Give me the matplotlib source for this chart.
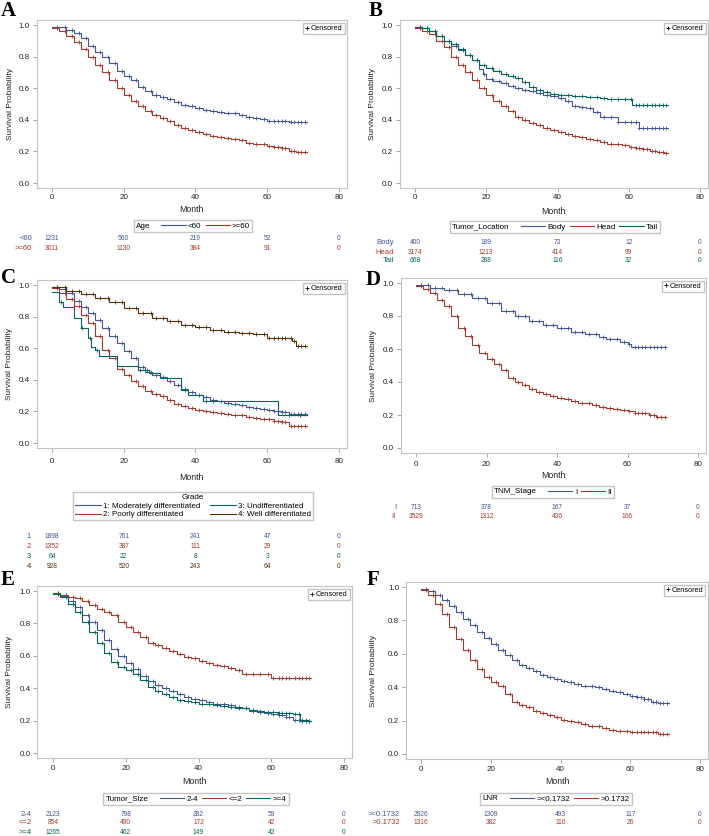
import matplotlib
matplotlib.use("Agg")
import numpy as np
import matplotlib.pyplot as plt
from matplotlib.lines import Line2D
from matplotlib.offsetbox import HPacker
from matplotlib.transforms import blended_transform_factory

plt.rcParams['font.family'] = ['Liberation Sans Narrow', 'Liberation Sans', 'DejaVu Sans']

BLUE, RED, GREEN, BROWN = '#445694', '#A23A2E', '#01665E', '#543005'

# ---- data ----
MONTHS = [0, 2, 4, 6, 8, 10, 12, 14, 16, 18, 20, 22, 24, 26, 28, 30, 32, 34,
          36, 38, 40, 42, 44, 46, 48, 50, 52, 54, 56, 58, 60, 62, 64, 66, 68, 70]
END_MONTH = 71
RISK_MONTHS = [0, 20, 40, 60, 80]
CENSOR = [1.5, 3.5, 5.5, 7.5, 9.5, 11.5, 13.5, 15.5, 17.5, 19.5, 21.5, 23.5, 25.5,
          27.5, 29, 31, 33, 35, 37, 39, 41, 43, 45, 47, 49, 51, 53, 55, 57, 59,
          60.5, 62, 63, 64, 65, 66.5, 67.5, 68.5, 69.5, 70.5]
CENSOR_UNDIFF = [2.5, 8.5, 10.5, 12.5, 24.5, 26.5, 37, 43, 45, 66, 69]

# A: Age
age_lt60 = [0.99, 0.985, 0.97, 0.95, 0.92, 0.87, 0.83, 0.80, 0.76, 0.71, 0.675, 0.65,
            0.61, 0.58, 0.56, 0.545, 0.53, 0.515, 0.495, 0.485, 0.475, 0.465, 0.455, 0.45,
            0.445, 0.44, 0.43, 0.415, 0.41, 0.405, 0.395, 0.395, 0.395, 0.385, 0.385, 0.385]
age_ge60 = [0.98, 0.96, 0.93, 0.89, 0.85, 0.80, 0.745, 0.70, 0.65, 0.60, 0.555, 0.52,
            0.49, 0.455, 0.43, 0.41, 0.39, 0.37, 0.35, 0.335, 0.32, 0.31, 0.30, 0.29,
            0.285, 0.28, 0.27, 0.255, 0.25, 0.245, 0.235, 0.225, 0.22, 0.205, 0.195, 0.195]
age_risk = [[1231, 560, 219, 52, 0], [3011, 1130, 384, 91, 0]]

# B: Tumor location
body_t = [0, 2, 4, 6, 8, 10, 12, 14, 16, 18, 19, 20, 22, 24, 26, 28, 30, 32, 34, 36,
          38, 40, 42, 44, 46, 48, 50, 52, 54, 56, 57, 60, 63]
body_s = [0.99, 0.98, 0.96, 0.93, 0.90, 0.87, 0.84, 0.81, 0.78, 0.72, 0.69, 0.66, 0.645,
          0.63, 0.615, 0.60, 0.59, 0.58, 0.57, 0.56, 0.55, 0.54, 0.52, 0.49, 0.48, 0.475,
          0.45, 0.42, 0.415, 0.415, 0.385, 0.385, 0.35]
head_s = [0.98, 0.96, 0.94, 0.90, 0.86, 0.80, 0.75, 0.70, 0.65, 0.60, 0.555, 0.52,
          0.49, 0.455, 0.42, 0.40, 0.38, 0.365, 0.35, 0.335, 0.32, 0.31, 0.30, 0.29,
          0.28, 0.275, 0.26, 0.25, 0.245, 0.24, 0.23, 0.22, 0.215, 0.205, 0.195, 0.19]
tail_t = [0, 2, 4, 6, 8, 10, 12, 14, 16, 18, 20, 22, 24, 26, 28, 30, 32, 34, 36, 38,
          40, 44, 48, 52, 54, 58, 61]
tail_s = [0.99, 0.98, 0.96, 0.93, 0.90, 0.88, 0.85, 0.81, 0.78, 0.75, 0.73, 0.71, 0.69,
          0.68, 0.665, 0.64, 0.61, 0.59, 0.575, 0.565, 0.555, 0.55, 0.545, 0.54, 0.53,
          0.53, 0.495]
loc_risk = [[400, 189, 73, 12, 0], [3174, 1213, 414, 99, 0], [668, 288, 116, 32, 0]]

# C: Grade
moder_s = [0.99, 0.975, 0.95, 0.90, 0.86, 0.82, 0.78, 0.73, 0.68, 0.63, 0.585, 0.54,
           0.48, 0.45, 0.43, 0.415, 0.39, 0.365, 0.34, 0.32, 0.305, 0.29, 0.275, 0.265,
           0.255, 0.25, 0.24, 0.23, 0.22, 0.215, 0.21, 0.20, 0.195, 0.185, 0.185, 0.185]
poor_s = [0.98, 0.95, 0.91, 0.87, 0.81, 0.76, 0.68, 0.59, 0.54, 0.47, 0.43, 0.39,
          0.36, 0.33, 0.31, 0.295, 0.27, 0.25, 0.235, 0.22, 0.21, 0.20, 0.195, 0.19,
          0.185, 0.18, 0.175, 0.165, 0.16, 0.155, 0.15, 0.14, 0.135, 0.11, 0.11, 0.11]
undiff_t = [0, 2, 3, 6, 8, 10, 11, 12, 13, 18, 24, 27, 30, 36, 38, 42, 63]
undiff_s = [0.955, 0.89, 0.86, 0.79, 0.725, 0.665, 0.61, 0.59, 0.55, 0.49, 0.46, 0.44,
            0.41, 0.335, 0.305, 0.265, 0.175]
well_t = [0, 4, 8, 12, 16, 20, 24, 28, 32, 36, 40, 44, 48, 52, 56, 60, 67, 68]
well_s = [0.99, 0.965, 0.94, 0.915, 0.89, 0.855, 0.825, 0.79, 0.77, 0.75, 0.735, 0.715,
          0.705, 0.695, 0.69, 0.665, 0.645, 0.615]
grade_risk = [[1898, 761, 241, 47, 0], [1352, 387, 111, 29, 0], [64, 22, 8, 3, 0],
              [928, 520, 243, 64, 0]]

# D: TNM stage
stage1_t = [0, 4, 8, 12, 16, 20, 24, 28, 32, 36, 40, 44, 48, 52, 54, 58, 60, 61]
stage1_s = [0.99, 0.97, 0.955, 0.935, 0.91, 0.88, 0.83, 0.80, 0.77, 0.745, 0.725, 0.705,
            0.69, 0.675, 0.66, 0.645, 0.63, 0.61]
stage2_s = [0.98, 0.965, 0.94, 0.90, 0.86, 0.80, 0.73, 0.68, 0.625, 0.575, 0.54, 0.51,
            0.47, 0.425, 0.40, 0.38, 0.36, 0.34, 0.325, 0.315, 0.305, 0.295, 0.285, 0.275,
            0.27, 0.26, 0.25, 0.24, 0.235, 0.23, 0.225, 0.215, 0.21, 0.20, 0.19, 0.185]
stage_risk = [[713, 378, 167, 37, 0], [3529, 1312, 436, 106, 0]]

# E: Tumor size
size24_s = [0.985, 0.97, 0.94, 0.90, 0.85, 0.81, 0.76, 0.70, 0.645, 0.60, 0.555, 0.52,
            0.475, 0.445, 0.42, 0.40, 0.38, 0.365, 0.345, 0.335, 0.325, 0.315, 0.305, 0.30,
            0.295, 0.285, 0.275, 0.26, 0.255, 0.245, 0.24, 0.235, 0.22, 0.205, 0.20, 0.20]
size_le2_s = [0.985, 0.975, 0.965, 0.955, 0.94, 0.915, 0.89, 0.87, 0.85, 0.81, 0.78, 0.745,
              0.715, 0.68, 0.665, 0.65, 0.63, 0.61, 0.595, 0.585, 0.57, 0.555, 0.545, 0.54,
              0.525, 0.51, 0.49, 0.49, 0.485, 0.485, 0.465, 0.46, 0.46, 0.46, 0.46, 0.46]
size_ge4_s = [0.98, 0.96, 0.92, 0.87, 0.81, 0.75, 0.68, 0.62, 0.56, 0.53, 0.51, 0.49,
              0.45, 0.41, 0.385, 0.365, 0.345, 0.33, 0.32, 0.315, 0.305, 0.30, 0.295, 0.29,
              0.285, 0.28, 0.275, 0.265, 0.26, 0.255, 0.255, 0.25, 0.245, 0.24, 0.205, 0.20]
size_risk = [[2123, 798, 282, 59, 0], [854, 490, 172, 42, 0], [1265, 462, 149, 42, 0]]

# F: LNR
lnr_low_s = [0.99, 0.975, 0.955, 0.925, 0.885, 0.85, 0.81, 0.77, 0.73, 0.695, 0.66, 0.625,
             0.59, 0.56, 0.535, 0.515, 0.495, 0.475, 0.46, 0.45, 0.44, 0.43, 0.42, 0.41,
             0.405, 0.40, 0.39, 0.375, 0.37, 0.36, 0.35, 0.34, 0.33, 0.31, 0.305, 0.305]
lnr_high_s = [0.98, 0.95, 0.90, 0.84, 0.76, 0.69, 0.62, 0.56, 0.51, 0.46, 0.43, 0.41,
              0.36, 0.31, 0.295, 0.28, 0.26, 0.245, 0.235, 0.22, 0.205, 0.195, 0.19, 0.18,
              0.17, 0.165, 0.155, 0.145, 0.14, 0.14, 0.13, 0.13, 0.13, 0.13, 0.12, 0.12]
lnr_risk = [[2926, 1309, 493, 117, 0], [1316, 382, 110, 26, 0]]

# ---- layout (pixels in the 709x836 picture) ----
W, H = 709, 836
XLIM = (-4.3, 82.3)
YLIM = (-0.032, 1.03)

panels = [
    dict(letter='A', letter_xy=(1, 1), px=(52, 339, 25, 183), var='Age',
         groups=['<60', '>=60'], colors=[BLUE, RED],
         curves=[(MONTHS, age_lt60), (MONTHS, age_ge60)], censor=[CENSOR, CENSOR],
         risk=age_risk, leg_xy=(193, 226), risk_y=[239, 248], lab_x=32,
         tick_pad=1.5, month_y=209, ylab_x=11),
    dict(letter='B', letter_xy=(369, 1), px=(415, 700, 25, 183), var='Tumor_Location',
         groups=['Body', 'Head', 'Tail'], colors=[BLUE, RED, GREEN],
         curves=[(body_t, body_s), (MONTHS, head_s), (tail_t, tail_s)],
         censor=[CENSOR, CENSOR, CENSOR],
         risk=loc_risk, leg_xy=(555, 227), risk_y=[243, 252, 260], lab_x=394,
         tick_pad=1.5, month_y=211, ylab_x=373),
    dict(letter='C', letter_xy=(1, 268), px=(52, 339, 285, 443), var='Grade',
         groups=['1: Moderately differentiated', '2: Poorly differentiated',
                 '3: Undifferentiated', '4: Well differentiated'],
         colors=[BLUE, RED, GREEN, BROWN],
         curves=[(MONTHS, moder_s), (MONTHS, poor_s), (undiff_t, undiff_s), (well_t, well_s)],
         censor=[CENSOR, CENSOR, CENSOR_UNDIFF, CENSOR],
         risk=grade_risk, leg_xy=(193, 506), risk_y=[537, 547, 557, 567], lab_x=31,
         labels=['1', '2', '3', '4'], tick_pad=4.5, month_y=477, ylab_x=10),
    dict(letter='D', letter_xy=(366, 270), px=(416, 698, 283, 448), var='TNM_Stage',
         groups=['I', 'II'], colors=[BLUE, RED],
         curves=[(stage1_t, stage1_s), (MONTHS, stage2_s)], censor=[CENSOR, CENSOR],
         risk=stage_risk, leg_xy=(553, 492), risk_y=[508, 517], lab_x=396,
         tick_pad=2.5, month_y=475, ylab_x=374),
    dict(letter='E', letter_xy=(1, 570), px=(53, 344, 591, 753), var='Tumor_Size',
         groups=['2-4', '<=2', '>=4'], colors=[BLUE, RED, GREEN],
         curves=[(MONTHS, size24_s), (MONTHS, size_le2_s), (MONTHS, size_ge4_s)],
         censor=[CENSOR, CENSOR, CENSOR],
         risk=size_risk, leg_xy=(196, 799), risk_y=[814, 823, 832], lab_x=32,
         tick_pad=2, month_y=781, ylab_x=10),
    dict(letter='F', letter_xy=(367, 570), px=(421, 700, 587, 754), var='LNR',
         groups=['=<0.1732', '>0.1732'], colors=[BLUE, RED],
         curves=[(MONTHS, lnr_low_s), (MONTHS, lnr_high_s)], censor=[CENSOR, CENSOR],
         risk=lnr_risk, leg_xy=(556, 799), risk_y=[814, 823], lab_x=400,
         tick_pad=2, month_y=782, ylab_x=374),
]


def axes_rect(x0, x80, y1, y0):
    sx = (x80 - x0) / 80.0
    sy = (y0 - y1)
    left = x0 + XLIM[0] * sx
    right = x0 + XLIM[1] * sx
    top = y1 - (YLIM[1] - 1) * sy
    bottom = y0 - YLIM[0] * sy
    return [left / W, 1 - bottom / H, (right - left) / W, (bottom - top) / H]


def surv_at(times, surv, t):
    idx = np.searchsorted(times, t, side='right') - 1
    return np.asarray(surv)[idx]


fig = plt.figure(figsize=(W / 100, H / 100), dpi=100)
fig.patch.set_facecolor('white')

for p in panels:
    ax = fig.add_axes(axes_rect(*p['px']))
    for (t, s), col, cens in zip(p['curves'], p['colors'], p['censor']):
        tt = list(t) + [END_MONTH]
        ss = list(s) + [s[-1]]
        ax.step(tt, ss, where='post', color=col, lw=0.8)
        ct = np.array(cens)
        ax.plot(ct, surv_at(tt, ss, ct), linestyle='none', marker='+',
                color=col, markersize=3.4, mew=0.6)

    ax.set_xlim(*XLIM)
    ax.set_ylim(*YLIM)
    ax.set_xticks([0, 20, 40, 60, 80])
    ax.set_yticks([0, 0.2, 0.4, 0.6, 0.8, 1.0])
    ax.set_yticklabels(['0.0', '0.2', '0.4', '0.6', '0.8', '1.0'])
    ax.tick_params(labelsize=5.8, length=3, width=0.6, color='#999999',
                   labelcolor='#222222', pad=2)
    ax.tick_params(axis='x', pad=p['tick_pad'])
    for sp in ax.spines.values():
        sp.set_color('#c4c4c4')
        sp.set_linewidth(0.8)

    ax.set_xlabel('Month', fontsize=6.3, color='#222222', va='center')
    ax.xaxis.set_label_coords(0.5, 1 - p['month_y'] / H,
                              transform=blended_transform_factory(ax.transAxes, fig.transFigure))
    ax.set_ylabel('Survival Probability', fontsize=6, color='#222222', va='center')
    ax.yaxis.set_label_coords(p['ylab_x'] / W, 0.5,
                              transform=blended_transform_factory(fig.transFigure, ax.transAxes))

    ax.legend([Line2D([], [], marker='+', color='black', linestyle='none',
                      markersize=3.5, mew=0.6)], ['Censored'],
              loc='upper right', fontsize=5.3, frameon=True, fancybox=False,
              edgecolor='#c4c4c4', framealpha=1, handlelength=0.5,
              handletextpad=0.3, borderpad=0.3, borderaxespad=0.35)

    # group legend below the plot
    handles = [Line2D([], [], color=c, lw=0.8) for c in p['colors']]
    cx, cy = p['leg_xy']
    wide = len(p['groups']) == 4
    leg = fig.legend(handles, p['groups'], loc='center',
                     bbox_to_anchor=(cx / W, 1 - cy / H),
                     ncol=2 if wide else len(handles), title=p['var'],
                     fontsize=5.8, title_fontsize=5.8, frameon=True, fancybox=False,
                     edgecolor='#c4c4c4', framealpha=1,
                     handlelength=3.0 if not wide else 3.2,
                     handletextpad=0.3, columnspacing=0.5 if not wide else 1.2,
                     borderpad=0.25, labelspacing=0.15)
    if not wide:
        # title sits to the left of the entries, as in the reference
        fs = leg._fontsize
        box = HPacker(pad=leg.borderpad * fs, sep=1.4 * fs, align='center',
                      children=[leg._legend_title_box, leg._legend_handle_box])
        box.set_figure(fig)
        box.axes = leg.axes
        box.set_offset(leg._findoffset)
        leg._legend_box = box

    # number at risk table
    trans = blended_transform_factory(ax.transData, fig.transFigure)
    row_labels = p.get('labels', p['groups'])
    for row, lab, col, ry in zip(p['risk'], row_labels, p['colors'], p['risk_y']):
        fig.text(p['lab_x'] / W, 1 - ry / H, lab, fontsize=5.5, color=col,
                 ha='right', va='center')
        for m, n in zip(RISK_MONTHS, row):
            ax.text(m, 1 - ry / H, str(n), transform=trans, fontsize=4.8,
                    color=col, ha='center', va='center')

    lx, ly = p['letter_xy']
    fig.text(lx / W, 1 - ly / H, p['letter'], fontsize=15, fontweight='bold',
             family='Liberation Serif', ha='left', va='top')

fig.savefig('out.png', dpi=100)
